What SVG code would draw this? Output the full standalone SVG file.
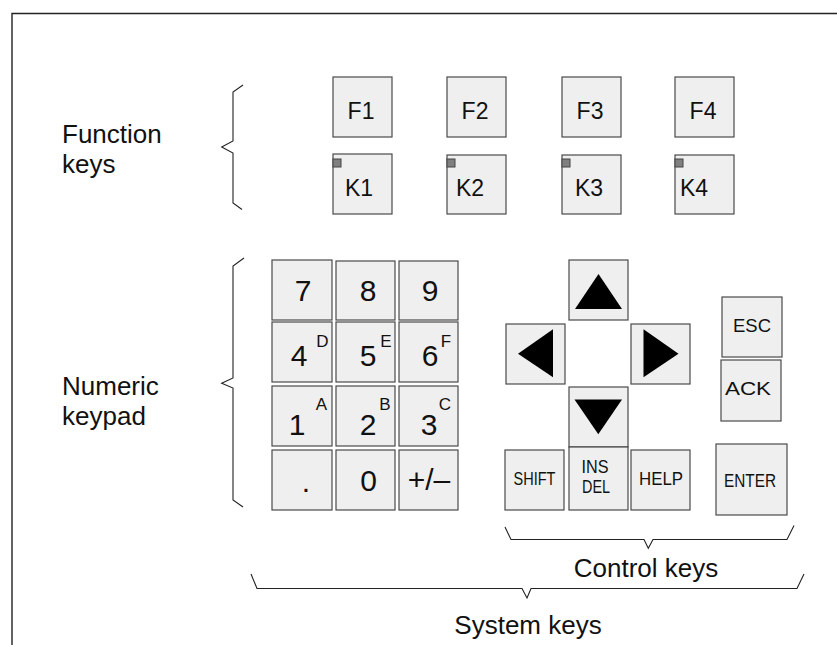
<svg xmlns="http://www.w3.org/2000/svg" width="837" height="645" viewBox="0 0 837 645">
<style>
.key{fill:#efefef;stroke:#4a4a4a;stroke-width:1.2}
.led{fill:#808080;stroke:#444;stroke-width:1}
.t{font-family:"Liberation Sans",Arial,sans-serif;fill:#111}
.lbl{font-size:26px}
.fk{font-size:23px;text-anchor:middle}
.dg{font-size:30px;text-anchor:middle}
.sup{font-size:17px;text-anchor:middle}
.ck{font-size:18px;text-anchor:middle}
.arr{fill:#000}
.br{fill:none;stroke:#222;stroke-width:1.1}
.frame{fill:none;stroke:#222;stroke-width:1.4}
</style>
<rect width="837" height="645" fill="#fff"/>
<path class="frame" d="M12,645 V13.5 H837"/>

<g id="labels">
<text class="t lbl" x="62" y="143">Function</text>
<text class="t lbl" x="62" y="173">keys</text>
<text class="t lbl" x="62" y="395">Numeric</text>
<text class="t lbl" x="62" y="425">keypad</text>
<text class="t lbl" x="646" y="577" text-anchor="middle">Control keys</text>
<text class="t lbl" x="528" y="634" text-anchor="middle">System keys</text>
</g>

<g id="braces">
<path class="br" d="M243,85 L233,92 V141 L221.7,147 L233,153 V203 L242,209.5"/>
<path class="br" d="M244,258 L233,266 V378 L221.7,383.3 L233,388 V500 L243,507"/>
<path class="br" d="M505,527 L511,539.5 H644 L648.3,548.3 L653,539.5 H787 L794,525.5"/>
<path class="br" d="M251,574 L257,588.5 H522 L527,598 L531,588.5 H797 L804,574"/>
</g>

<g id="key-F1"><rect class="key" x="333" y="77" width="59" height="60"/><text class="t fk" x="361" y="119">F1</text></g>
<g id="key-F2"><rect class="key" x="447" y="77" width="59" height="60"/><text class="t fk" x="475" y="119">F2</text></g>
<g id="key-F3"><rect class="key" x="562" y="77" width="59" height="60"/><text class="t fk" x="590" y="119">F3</text></g>
<g id="key-F4"><rect class="key" x="675" y="77" width="59" height="60"/><text class="t fk" x="703" y="119">F4</text></g>

<g id="key-K1"><rect class="key" x="333" y="154" width="59" height="60"/><rect class="led" x="333" y="159" width="8" height="8"/><text class="t fk" x="359" y="196">K1</text></g>
<g id="key-K2"><rect class="key" x="447" y="155" width="59" height="59"/><rect class="led" x="447" y="159" width="8" height="8"/><text class="t fk" x="470" y="196">K2</text></g>
<g id="key-K3"><rect class="key" x="562" y="155" width="59" height="59"/><rect class="led" x="562" y="159" width="8" height="8"/><text class="t fk" x="589" y="196">K3</text></g>
<g id="key-K4"><rect class="key" x="675" y="155" width="59" height="59"/><rect class="led" x="675" y="159" width="8" height="8"/><text class="t fk" x="694" y="196">K4</text></g>

<g id="key-7"><rect class="key" x="272" y="260" width="60" height="60"/><text class="t dg" x="303" y="301">7</text></g>
<g id="key-8"><rect class="key" x="336" y="261" width="59" height="59"/><text class="t dg" x="368" y="301">8</text></g>
<g id="key-9"><rect class="key" x="399" y="261" width="59" height="59"/><text class="t dg" x="430" y="301">9</text></g>

<g id="key-4"><rect class="key" x="272" y="322" width="60" height="60"/><text class="t dg" x="299" y="366">4</text><text class="t sup" x="322.5" y="347">D</text></g>
<g id="key-5"><rect class="key" x="336" y="322" width="59" height="60"/><text class="t dg" x="368" y="366">5</text><text class="t sup" x="386" y="347">E</text></g>
<g id="key-6"><rect class="key" x="399" y="322" width="59" height="60"/><text class="t dg" x="430" y="366">6</text><text class="t sup" x="446" y="347">F</text></g>

<g id="key-1"><rect class="key" x="272" y="386" width="60" height="60"/><text class="t dg" x="297" y="435">1</text><text class="t sup" x="321.5" y="410">A</text></g>
<g id="key-2"><rect class="key" x="336" y="386" width="59" height="60"/><text class="t dg" x="368" y="435">2</text><text class="t sup" x="385" y="410">B</text></g>
<g id="key-3"><rect class="key" x="399" y="386" width="59" height="60"/><text class="t dg" x="429" y="435">3</text><text class="t sup" x="445" y="410">C</text></g>

<g id="key-dot"><rect class="key" x="272" y="450" width="60" height="60"/><text class="t dg" x="306" y="492">.</text></g>
<g id="key-0"><rect class="key" x="336" y="450" width="59" height="60"/><text class="t dg" x="368.5" y="491">0</text></g>
<g id="key-plusminus"><rect class="key" x="399" y="450" width="59" height="60"/><text class="t dg" x="429" y="490">+/–</text></g>

<g id="key-up"><rect class="key" x="569" y="260" width="59" height="60"/><polygon class="arr" points="575,309 622,309 598.5,274"/></g>
<g id="key-left"><rect class="key" x="506" y="324" width="59" height="60"/><polygon class="arr" points="518,353.7 553,329.3 553,377.3"/></g>
<g id="key-right"><rect class="key" x="631" y="324" width="59" height="60"/><polygon class="arr" points="643.5,329.3 643.5,377.3 678.5,353.7"/></g>
<g id="key-down"><rect class="key" x="569" y="387" width="59" height="60"/><polygon class="arr" points="574.5,399.5 622,399.5 598.3,434.3"/></g>

<g id="key-ESC"><rect class="key" x="722" y="297" width="60" height="60"/><text class="t ck" x="752" y="332" textLength="38" lengthAdjust="spacingAndGlyphs">ESC</text></g>
<g id="key-ACK"><rect class="key" x="721" y="360" width="60" height="61"/><text class="t ck" x="748" y="395" textLength="46" lengthAdjust="spacingAndGlyphs">ACK</text></g>
<g id="key-ENTER"><rect class="key" x="716" y="444" width="71" height="71"/><text class="t ck" x="750" y="486.5" textLength="52" lengthAdjust="spacingAndGlyphs">ENTER</text></g>

<g id="key-SHIFT"><rect class="key" x="505" y="450" width="59" height="60"/><text class="t ck" x="534.5" y="485" textLength="42" lengthAdjust="spacingAndGlyphs">SHIFT</text></g>
<g id="key-INSDEL"><rect class="key" x="569" y="447" width="59" height="63"/><text class="t ck" x="595" y="473" textLength="27" lengthAdjust="spacingAndGlyphs">INS</text><text class="t ck" x="596" y="493" textLength="28" lengthAdjust="spacingAndGlyphs">DEL</text></g>
<g id="key-HELP"><rect class="key" x="631" y="450" width="59" height="60"/><text class="t ck" x="661" y="485" textLength="44" lengthAdjust="spacingAndGlyphs">HELP</text></g>
</svg>
